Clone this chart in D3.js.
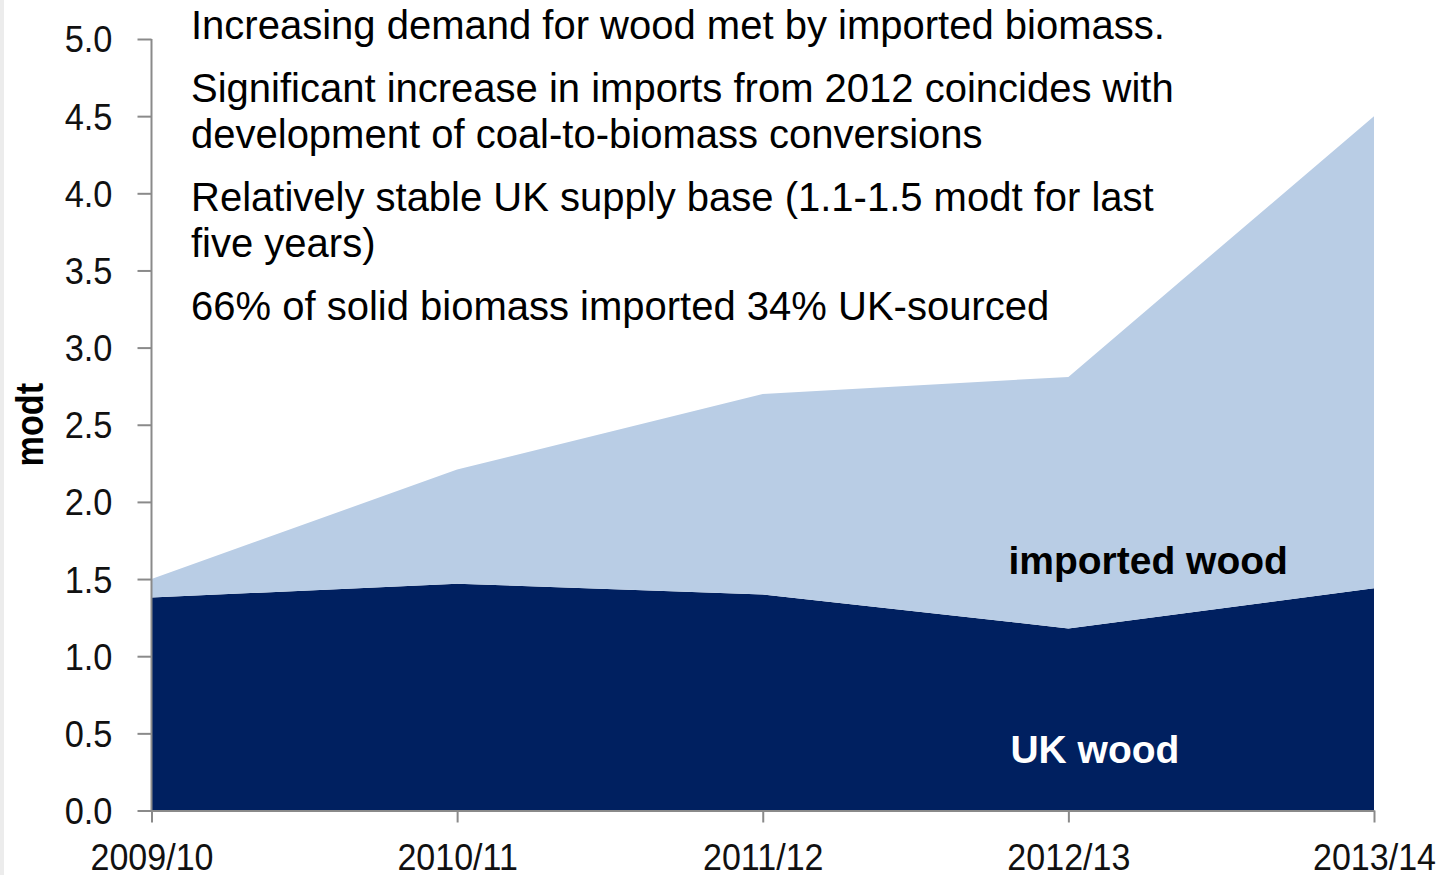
<!DOCTYPE html>
<html>
<head>
<meta charset="utf-8">
<script src="https://cdn.jsdelivr.net/npm/d3@7"></script>
<style>
  html, body { margin: 0; padding: 0; background: #ffffff; }
  svg { display: block; }
  text { font-family: "Liberation Sans", Arial, sans-serif; }
</style>
</head>
<body>
<svg id="chart" width="1445" height="877"></svg>
<script>
// Wood supply by source, million oven-dried tonnes (modt)
const years = ["2009/10", "2010/11", "2011/12", "2012/13", "2013/14"];
const ukWood = [1.38, 1.47, 1.40, 1.18, 1.44];
const importedWood = [0.12, 0.74, 1.30, 1.63, 3.06];
const yTicks = [0, 0.5, 1, 1.5, 2, 2.5, 3, 3.5, 4, 4.5, 5];

// Bullet notes: each entry is one paragraph, split into its lines
const notes = [
  ["Increasing demand for wood met by imported biomass."],
  ["Significant increase in imports from 2012 coincides with",
   "development of coal-to-biomass conversions"],
  ["Relatively stable UK supply base (1.1-1.5 modt for last",
   "five years)"],
  ["66% of solid biomass imported 34% UK-sourced"]
];

const svg = d3.select("#chart");
const W = 1445, H = 877;
const margin = { left: 151.5, right: 71, top: 39, bottom: 66.5 };

const rows = years.map((yr, i) => ({ year: yr, uk: ukWood[i], imported: importedWood[i] }));

const x = d3.scalePoint().domain(years).range([margin.left, W - margin.right]);
const y = d3.scaleLinear().domain([0, 5]).range([H - margin.bottom, margin.top]);

// faint panel edge on the far left
svg.append("rect").attr("x", 0).attr("y", 0).attr("width", 4).attr("height", H - 2)
  .attr("fill", "#ececec");

// stacked areas
const stack = d3.stack().keys(["uk", "imported"]);
const series = stack(rows);
const fills = { uk: "#002060", imported: "#b9cde5" };

const area = d3.area()
  .x(d => x(d.data.year))
  .y0(d => y(d[0]))
  .y1(d => y(d[1]));

svg.append("g").selectAll("path")
  .data(series)
  .join("path")
  .attr("d", area)
  .attr("fill", d => fills[d.key]);

// axes
const axisColor = "#8a8a8a";
const yAxis = svg.append("g")
  .attr("transform", `translate(${margin.left},0)`)
  .call(d3.axisLeft(y).tickValues(yTicks).tickFormat(d3.format(".1f")).tickSize(14).tickSizeOuter(0).tickPadding(28));
yAxis.selectAll("path, line").attr("stroke", axisColor).attr("stroke-width", 2);
yAxis.selectAll("text")
  .attr("fill", "#111")
  .attr("font-size", 37)
  .attr("dy", "0.35em")
  .attr("transform", "scale(0.93,1)");
yAxis.select(".domain").remove();
yAxis.append("line")
  .attr("x1", 0).attr("x2", 0)
  .attr("y1", y(5)).attr("y2", y(0) + 1)
  .attr("stroke", axisColor).attr("stroke-width", 2);

const xAxis = svg.append("g")
  .attr("transform", `translate(0,${y(0)})`)
  .call(d3.axisBottom(x).tickSize(12).tickSizeOuter(0).tickPadding(21));
xAxis.selectAll("path, line").attr("stroke", axisColor).attr("stroke-width", 2);
xAxis.selectAll("text")
  .attr("fill", "#111")
  .attr("font-size", 37)
  .attr("dy", "0.71em")
  .attr("transform", "scale(0.92,1)");

// y-axis title
svg.append("text")
  .attr("transform", `translate(43,${(y(0) + y(5)) / 2}) rotate(-90) scale(0.9,1)`)
  .attr("text-anchor", "middle")
  .attr("font-size", 38)
  .attr("font-weight", "bold")
  .attr("fill", "#000")
  .text("modt");

// series labels inside the areas
svg.append("text")
  .attr("x", x("2012/13") - 60).attr("y", y(1.53))
  .attr("font-size", 39).attr("font-weight", "bold").attr("fill", "#000")
  .text("imported wood");
svg.append("text")
  .attr("x", x("2012/13") - 58).attr("y", y(0.31))
  .attr("font-size", 39).attr("font-weight", "bold").attr("fill", "#fff")
  .text("UK wood");

// notes block
const lineStep = 46, paraStep = 63;
let baseline = 39;
const notesG = svg.append("g");
notes.forEach((para, pi) => {
  if (pi > 0) baseline += paraStep - lineStep;
  para.forEach((line, li) => {
    if (pi > 0 || li > 0) baseline += lineStep;
    notesG.append("text")
      .attr("x", 191).attr("y", baseline)
      .attr("font-size", 40)
      .attr("fill", "#000")
      .text(line);
  });
});
</script>
</body>
</html>
